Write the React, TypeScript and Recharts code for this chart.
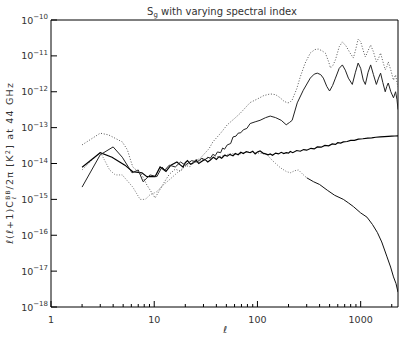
import React from 'react';
import { LineChart, Line, XAxis, YAxis, ReferenceArea } from 'recharts';

const W = 415;
const H = 346;
const FONT = '"DejaVu Sans", "Liberation Sans", sans-serif';
const INK = '#333';
const FRAME = '#000';

const xMajor = [1, 10, 100, 1000];
const xTicks = [1, 2, 3, 4, 5, 6, 7, 8, 9, 10, 20, 30, 40, 50, 60, 70, 80, 90, 100, 200, 300, 400, 500, 600, 700, 800, 900, 1000, 2000];
const yTicks = [1e-18, 1e-17, 1e-16, 1e-15, 1e-14, 1e-13, 1e-12, 1e-11, 1e-10];
const xDomain = [1, 2300];
const yDomain = [1e-18, 1e-10];

const seriesA: [number, number][] = [
  [2, 3.3e-14], [3, 7e-14], [3.6, 6.3e-14], [4.9, 4e-14], [5.5, 2.4e-14], [5.8, 1.45e-14], [6.2, 8e-15],
  [7.6, 4.8e-15], [8.5, 2.5e-15], [10.2, 1.1e-15], [11, 1.6e-15], [12.5, 3e-15], [14, 5e-15], [16, 7e-15],
  [18, 6e-15], [20, 9e-15], [22, 8e-15], [25, 1.2e-14], [28, 1.4e-14], [30, 1.75e-14], [34, 2.6e-14],
  [37, 4e-14], [44, 7e-14], [51, 1.2e-13], [60, 1.8e-13], [68, 2.5e-13], [85, 5e-13], [100, 6.3e-13],
  [115, 7.8e-13], [133, 8.7e-13], [150, 8.3e-13], [166, 6.8e-13], [180, 5.5e-13], [195, 4.9e-13],
  [205, 5e-13], [217, 5.9e-13], [240, 1.2e-12], [260, 2.6e-12], [290, 6.3e-12], [325, 1.2e-11],
  [360, 1.5e-11], [388, 1.55e-11], [420, 1.4e-11], [455, 1.2e-11], [490, 6.8e-12], [510, 4.6e-12],
  [540, 5.5e-12], [570, 7.8e-12], [620, 1.8e-11], [665, 2.45e-11], [720, 1.9e-11], [790, 1.2e-11],
  [850, 8.7e-12], [900, 1.6e-11], [945, 2.95e-11], [1000, 2.5e-11], [1060, 1.4e-11], [1110, 9.3e-12],
  [1180, 1.4e-11], [1250, 2e-11], [1330, 1.3e-11], [1420, 6.8e-12], [1490, 8.5e-12], [1560, 1.2e-11],
  [1640, 7e-12], [1730, 4.1e-12], [1790, 5e-12], [1850, 6.8e-12], [1960, 4e-12], [2080, 2.1e-12],
  [2180, 2.95e-12], [2250, 1.8e-12], [2300, 1.35e-12],
];

const seriesB: [number, number][] = [
  [2, 2.2e-15], [3, 1.75e-14], [4, 2.9e-14], [4.9, 1.5e-14], [6.1, 5.5e-15], [7, 6.6e-15], [7.8, 3.1e-15],
  [9.1, 4.8e-15], [10.6, 4.3e-15], [11.9, 8e-15], [12.7, 6.6e-15], [14, 9e-15], [16, 8e-15], [18, 1.1e-14],
  [20, 9e-15], [23, 1.2e-14], [26, 1.1e-14], [29, 1.4e-14], [31, 1.25e-14], [33, 1.5e-14], [35, 1.4e-14],
  [37, 1.8e-14], [39, 1.65e-14], [41, 2.1e-14], [44, 2e-14], [46, 2.7e-14], [48, 2.5e-14], [51, 3.3e-14],
  [55, 3.6e-14], [58, 5.5e-14], [62, 5.8e-14], [65, 7e-14], [69, 7.2e-14], [73, 8.7e-14], [79, 9.5e-14],
  [85, 1.3e-13], [95, 1.45e-13], [106, 1.6e-13], [120, 1.9e-13], [133, 2.1e-13], [150, 1.9e-13],
  [170, 1.6e-13], [190, 1.2e-13], [205, 1.4e-13], [217, 1.6e-13], [243, 4.9e-13], [278, 1.1e-12],
  [325, 2.4e-12], [355, 3.1e-12], [380, 3.3e-12], [410, 3e-12], [435, 2.4e-12], [470, 1.4e-12],
  [500, 1.05e-12], [535, 1.5e-12], [570, 2.4e-12], [620, 4.5e-12], [665, 5.6e-12], [710, 4e-12],
  [760, 2.4e-12], [830, 1.6e-12], [890, 3.5e-12], [945, 6.3e-12], [1000, 4.5e-12], [1060, 2.1e-12],
  [1110, 1.6e-12], [1180, 3.5e-12], [1250, 5.6e-12], [1330, 3e-12], [1420, 1.6e-12], [1490, 2.4e-12],
  [1560, 3.3e-12], [1640, 1.8e-12], [1730, 1e-12], [1790, 1.4e-12], [1850, 1.75e-12], [1960, 1e-12],
  [2080, 6.8e-13], [2180, 1e-12], [2250, 6e-13], [2300, 3.2e-13],
];

const seriesC: [number, number][] = [
  [2, 7.9e-15], [3, 2e-14], [3.9, 1.5e-14], [5.2, 9e-15], [6.2, 5.9e-15], [7.6, 5.5e-15], [8.5, 4.3e-15],
  [10.2, 4.3e-15], [11.4, 8e-15], [13, 6e-15], [14.5, 9e-15], [16.6, 1.1e-14], [18, 9e-15], [19, 8e-15],
  [20, 1.05e-14], [21, 1.2e-14], [22.5, 9.5e-15], [24, 1.05e-14], [25.5, 1.25e-14], [27, 1e-14],
  [29, 1.15e-14], [31, 1.3e-14], [33, 1.1e-14], [35, 1.25e-14], [37.5, 1.5e-14], [40, 1.3e-14],
  [42.5, 1.55e-14], [45, 1.4e-14], [48, 1.7e-14], [51, 1.6e-14], [54, 1.8e-14], [58, 1.65e-14],
  [61, 1.9e-14], [65, 1.75e-14], [69, 2.05e-14], [73, 1.9e-14], [78, 2.15e-14], [85, 2e-14], [90, 2.2e-14],
  [95, 1.85e-14], [100, 2.1e-14], [106, 2.25e-14], [113, 1.95e-14], [120, 1.85e-14], [127, 1.75e-14],
  [133, 1.85e-14], [140, 1.7e-14], [150, 1.95e-14], [160, 1.85e-14], [170, 2.05e-14], [180, 1.9e-14],
  [190, 2e-14], [200, 1.95e-14], [208, 2.15e-14], [220, 2e-14], [240, 2.3e-14], [260, 2.2e-14],
  [280, 2.45e-14], [300, 2.35e-14], [330, 2.65e-14], [355, 2.55e-14], [380, 2.9e-14], [415, 2.85e-14],
  [450, 3.2e-14], [490, 3.1e-14], [530, 3.5e-14], [570, 3.4e-14], [600, 3.8e-14], [640, 3.7e-14],
  [680, 4e-14], [740, 4.1e-14], [800, 4.4e-14], [870, 4.4e-14], [950, 4.8e-14], [1050, 4.9e-14],
  [1170, 5.1e-14], [1280, 5.2e-14], [1400, 5.4e-14], [1550, 5.5e-14], [1700, 5.6e-14], [1850, 5.7e-14],
  [2000, 5.8e-14], [2150, 5.85e-14], [2300, 5.9e-14],
];

const seriesD: [number, number][] = [
  [2, 6.6e-15], [3, 2.1e-14], [3.7, 6.6e-15], [4.2, 4.8e-15], [4.9, 4.8e-15], [6.2, 2.2e-15], [7.3, 1e-15],
  [8.2, 1e-15], [9.1, 1.35e-15], [10.5, 1.6e-15], [12.2, 2.5e-15], [14, 3.5e-15], [16.7, 5.5e-15],
  [19, 7.5e-15], [22, 1e-14], [26, 1.1e-14], [30, 1.3e-14], [37, 1.5e-14], [45, 1.6e-14], [55, 1.9e-14],
  [65, 1.8e-14], [80, 2.1e-14], [95, 2e-14], [110, 1.9e-14], [124, 1.75e-14], [140, 1.2e-14],
  [167, 7.6e-15], [190, 6e-15], [208, 5.5e-15], [230, 6.3e-15], [250, 6.6e-15], [275, 5e-15],
  [300, 4e-15], [350, 3.1e-15], [400, 2.6e-15], [475, 1.8e-15], [560, 1.3e-15], [680, 1e-15],
  [760, 8e-16], [850, 6.3e-16], [1000, 4.2e-16], [1150, 3.2e-16], [1300, 2e-16], [1450, 1.2e-16],
  [1600, 6.5e-17], [1800, 2.5e-17], [1950, 1.3e-17], [2080, 6.9e-18], [2200, 4.5e-18], [2300, 2.6e-18],
];

const SPLIT_L = 300;

const toRows = (s: [number, number][]) => s.map(([l, v]) => ({ l, v }));
const rowsA = toRows(seriesA);
const rowsB = toRows(seriesB);
const rowsC = toRows(seriesC);
const rowsD1 = toRows(seriesD.filter(([l]) => l <= SPLIT_L));
const rowsD2 = toRows(seriesD.filter(([l]) => l >= SPLIT_L));

const isMajor = (v: number) => xMajor.indexOf(v) >= 0;

const BottomTick = (props: any) => {
  const x = Number(props.x);
  const y = Number(props.y);
  const major = isMajor(props.payload.value);
  return (
    <g>
      <rect x={x - 0.5} y={y - (major ? 6 : 3)} width={1} height={major ? 6 : 3} fill={FRAME} />
      {major && (
        <text x={x} y={y + 16} textAnchor="middle" fontSize={9.5} fill={INK} fontFamily={FONT}>
          {props.payload.value}
        </text>
      )}
    </g>
  );
};

const TopTick = (props: any) => {
  const x = Number(props.x);
  const y = Number(props.y);
  const major = isMajor(props.payload.value);
  return <rect x={x - 0.5} y={y} width={1} height={major ? 6 : 3} fill={FRAME} />;
};

const LeftTick = (props: any) => {
  const x = Number(props.x);
  const y = Number(props.y);
  const e = Math.round(Math.log10(props.payload.value));
  return (
    <g>
      <rect x={x} y={y - 0.5} width={6} height={1} fill={FRAME} />
      <text x={x - 3} y={y + 3.5} textAnchor="end" fontSize={9.5} fill={INK} fontFamily={FONT}>
        <tspan>10</tspan>
        <tspan dy={-4.5} fontSize={7}>{'\u2212' + Math.abs(e)}</tspan>
      </text>
    </g>
  );
};

const RightTick = (props: any) => {
  const x = Number(props.x);
  const y = Number(props.y);
  return <rect x={x - 6} y={y - 0.5} width={6} height={1} fill={FRAME} />;
};

export default function App() {
  return (
    <div style={{ position: 'absolute', left: 0, top: 0, width: W, height: H, background: '#fff' }}>
      <LineChart width={W} height={H} margin={{ top: 20, right: 17, bottom: 0, left: 0 }}>
        <XAxis xAxisId="b" dataKey="l" type="number" scale="log" domain={xDomain} allowDataOverflow
          ticks={xTicks} interval={0} height={39} tickSize={0} tickMargin={0} tickLine={false}
          axisLine={false} tick={<BottomTick />} />
        <XAxis xAxisId="t" orientation="top" dataKey="l" type="number" scale="log" domain={xDomain} allowDataOverflow
          ticks={xTicks} interval={0} height={0} tickSize={0} tickMargin={0} tickLine={false}
          axisLine={false} tick={<TopTick />} />
        <YAxis yAxisId="l" type="number" scale="log" domain={yDomain} allowDataOverflow
          ticks={yTicks} interval={0} width={51} tickSize={0} tickMargin={0} tickLine={false}
          axisLine={false} tick={<LeftTick />} />
        <YAxis yAxisId="r" orientation="right" type="number" scale="log" domain={yDomain} allowDataOverflow
          ticks={yTicks} interval={0} width={0} tickSize={0} tickMargin={0} tickLine={false}
          axisLine={false} tick={<RightTick />} />
        <ReferenceArea xAxisId="b" yAxisId="l" x1={xDomain[0]} x2={xDomain[1]} y1={yDomain[0]} y2={yDomain[1]}
          fill="none" fillOpacity={0} stroke={FRAME} strokeWidth={1} strokeOpacity={1} ifOverflow="visible" />
        <Line xAxisId="b" yAxisId="l" data={rowsD1} dataKey="v" type="linear" stroke="#777" strokeWidth={1}
          strokeDasharray="1 1.6" dot={false} isAnimationActive={false} />
        <Line xAxisId="b" yAxisId="l" data={rowsD2} dataKey="v" type="linear" stroke="#111" strokeWidth={1}
          dot={false} isAnimationActive={false} />
        <Line xAxisId="b" yAxisId="l" data={rowsC} dataKey="v" type="linear" stroke="#000" strokeWidth={1.2}
          dot={false} isAnimationActive={false} />
        <Line xAxisId="b" yAxisId="l" data={rowsB} dataKey="v" type="linear" stroke="#222" strokeWidth={1}
          dot={false} isAnimationActive={false} />
        <Line xAxisId="b" yAxisId="l" data={rowsA} dataKey="v" type="linear" stroke="#555" strokeWidth={1}
          strokeDasharray="1 1.8" dot={false} isAnimationActive={false} />
      </LineChart>
      <svg width={W} height={H} style={{ position: 'absolute', left: 0, top: 0, pointerEvents: 'none' }}>
        <text x={222} y={15} textAnchor="middle" fontSize={10} fill={INK} fontFamily={FONT}>
          <tspan>S</tspan>
          <tspan dy={2} fontSize={7}>g</tspan>
          <tspan dy={-2}> with varying spectral index</tspan>
        </text>
        <text x={225} y={333} textAnchor="middle" fontSize={9.5} fontStyle="italic" fill={INK} fontFamily={FONT}>
          {'\u2113'}
        </text>
        <text transform="translate(13,163) rotate(-90)" x={0} y={0} textAnchor="middle" fontSize={9.5}
          letterSpacing={1.2} fill={INK} fontFamily={FONT}>
          <tspan>{'\u2113(\u2113+1)C'}</tspan>
          <tspan dy={-3.5} fontSize={6}>BB</tspan>
          <tspan dx={-10} dy={6.5} fontSize={6}>{'\u2113'}</tspan>
          <tspan dx={6} dy={-3}>{'/2\u03c0   [K'}</tspan>
          <tspan dy={-3.5} fontSize={6.5}>2</tspan>
          <tspan dy={3.5}>{']  at 44 GHz'}</tspan>
        </text>
      </svg>
    </div>
  );
}
